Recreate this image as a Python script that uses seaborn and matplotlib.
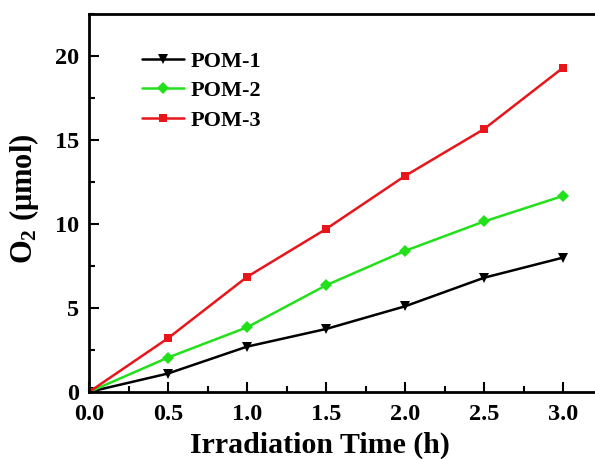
import pandas as pd
import numpy as np
import seaborn as sns
import matplotlib.pyplot as plt
from matplotlib.ticker import MultipleLocator

# data
time_h = [0.0, 0.5, 1.0, 1.5, 2.0, 2.5, 3.0]
pom1 = [0.0, 1.1, 2.7, 3.75, 5.1, 6.8, 8.0]
pom2 = [0.0, 2.05, 3.85, 6.35, 8.4, 10.15, 11.67]
pom3 = [0.0, 3.2, 6.85, 9.7, 12.86, 15.65, 19.3]
names = ["POM-1", "POM-2", "POM-3"]

df = pd.DataFrame({
    "time": time_h * 3,
    "o2": pom1 + pom2 + pom3,
    "sample": [n for n in names for _ in time_h],
})

sns.set_theme(style="ticks")
plt.rcParams["font.family"] = ["Liberation Serif", "DejaVu Serif"]
plt.rcParams["font.weight"] = "bold"
plt.rcParams["mathtext.fontset"] = "custom"
plt.rcParams["mathtext.rm"] = "Liberation Serif:bold"
plt.rcParams["mathtext.it"] = "Liberation Serif:bold"
for k in ["text.color", "axes.labelcolor", "xtick.color", "ytick.color", "axes.edgecolor"]:
    plt.rcParams[k] = "black"

fig = plt.figure(figsize=(5.95, 4.59), dpi=100)
ax = fig.add_axes([89 / 595, 1 - 392 / 459, 513.5 / 595, 378 / 459])

palette = {"POM-1": "black", "POM-2": "#22e01a", "POM-3": "#e8161a"}
markers = {"POM-1": "v", "POM-2": "D", "POM-3": "s"}
sizes = {"POM-1": 7, "POM-2": 6, "POM-3": 6}

for n in names:
    sub = df[df["sample"] == n]
    sns.lineplot(data=sub, x="time", y="o2", ax=ax, color=palette[n],
                 marker=markers[n], markersize=sizes[n], markeredgewidth=0,
                 linewidth=1.8, label=n)

ax.set_xlim(0, 3.25)
ax.set_ylim(0, 22.5)
ax.xaxis.set_major_locator(MultipleLocator(0.5))
ax.xaxis.set_minor_locator(MultipleLocator(0.25))
ax.yaxis.set_major_locator(MultipleLocator(5))
ax.yaxis.set_minor_locator(MultipleLocator(2.5))
ax.xaxis.set_major_formatter(plt.FormatStrFormatter("%.1f"))

ax.tick_params(which="major", direction="in", length=7, width=1.5,
               labelsize=17.5, top=False, right=False)
ax.tick_params(axis="x", which="major", pad=9)
ax.tick_params(axis="y", which="major", pad=7)
ax.tick_params(which="minor", direction="in", length=4, width=1.5,
               top=False, right=False)
for s in ax.spines.values():
    s.set_linewidth(2)

ax.set_xlabel("Irradiation Time (h)", fontsize=21.5, fontweight="bold")
ax.set_ylabel(r"O$_2$ ($\mathregular{\mu}$mol)", fontsize=22, fontweight="bold")
ax.xaxis.set_label_coords(0.45, -0.105)
ax.yaxis.set_label_coords(-0.094, 0.51)

leg = ax.legend(loc="upper left", bbox_to_anchor=(0.085, 0.925), frameon=False,
                fontsize=16, handlelength=1.9, handletextpad=0.3,
                labelspacing=0.4, borderaxespad=0)
for t in leg.get_texts():
    t.set_fontweight("bold")

fig.savefig("out.png", dpi=100)
